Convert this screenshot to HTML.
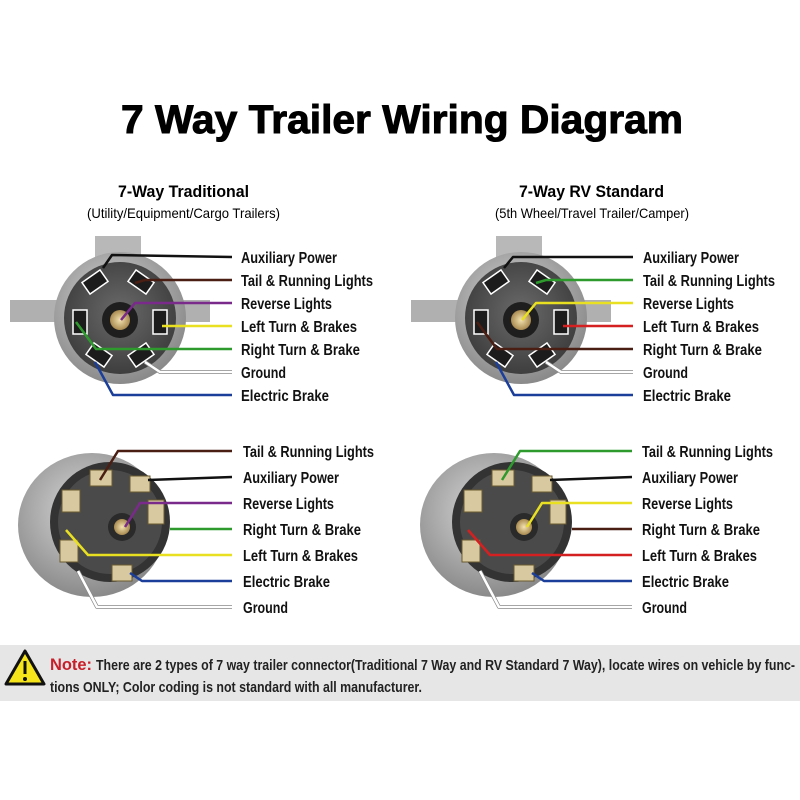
<!DOCTYPE html>
<html><head><meta charset="utf-8"><style>
html,body{margin:0;padding:0;background:#fff;width:800px;height:800px;overflow:hidden}
svg text{font-family:"Liberation Sans Narrow","Liberation Sans",sans-serif;}
</style></head><body>
<svg width="800" height="800" viewBox="0 0 800 800" xmlns="http://www.w3.org/2000/svg">
<defs>
<radialGradient id="face" cx="50%" cy="45%" r="60%"><stop offset="0" stop-color="#6a6a6a"/><stop offset="1" stop-color="#3a3a3a"/></radialGradient>
<radialGradient id="rim" cx="45%" cy="40%" r="60%"><stop offset="0" stop-color="#d8d8d8"/><stop offset="1" stop-color="#8a8a8a"/></radialGradient>
<radialGradient id="brass" cx="50%" cy="50%" r="50%"><stop offset="0" stop-color="#f4e2b0"/><stop offset="1" stop-color="#a88a50"/></radialGradient>
</defs>
<text x="402" y="133" font-size="40" font-weight="bold" text-anchor="middle" textLength="562" lengthAdjust="spacingAndGlyphs" stroke="#000" stroke-width="1" style="font-family:'Liberation Sans',sans-serif">7 Way Trailer Wiring Diagram</text>
<text x="118" y="197" font-size="17" font-weight="bold" textLength="131" lengthAdjust="spacingAndGlyphs">7-Way Traditional</text>
<text x="87" y="218" font-size="14" textLength="193" lengthAdjust="spacingAndGlyphs">(Utility/Equipment/Cargo Trailers)</text>
<text x="519" y="197" font-size="17" font-weight="bold" textLength="145" lengthAdjust="spacingAndGlyphs">7-Way RV Standard</text>
<text x="495" y="218" font-size="14" textLength="194" lengthAdjust="spacingAndGlyphs">(5th Wheel/Travel Trailer/Camper)</text>

<g id="topconn">
<rect x="95" y="236" width="46" height="30" fill="#b8b8b8"/>
<rect x="10" y="300" width="200" height="22" fill="#b0b0b0"/>
<circle cx="120" cy="318" r="66" fill="url(#rim)"/>
<circle cx="120" cy="318" r="56" fill="url(#face)"/>
<g fill="#1c1c1c" stroke="#fff" stroke-width="1.5">
<rect x="84" y="275" width="22" height="14" transform="rotate(-35 95 282)"/>
<rect x="130" y="275" width="22" height="14" transform="rotate(35 141 282)"/>
<rect x="73" y="310" width="14" height="24"/>
<rect x="153" y="310" width="14" height="24"/>
<rect x="88" y="348" width="22" height="14" transform="rotate(35 99 355)"/>
<rect x="130" y="348" width="22" height="14" transform="rotate(-35 141 355)"/>
</g>
<circle cx="120" cy="320" r="18" fill="#1e1e1e"/>
<circle cx="120" cy="320" r="10" fill="url(#brass)"/>
</g>
<use href="#topconn" x="401" y="0"/>

<g id="botconn">
<ellipse cx="92" cy="525" rx="74" ry="72" fill="url(#rim)"/>
<circle cx="110" cy="522" r="60" fill="#333"/>
<circle cx="110" cy="522" r="52" fill="#4a4a4a"/>
<g fill="#d8c9a0" stroke="#6a5a30" stroke-width="1">
<rect x="90" y="470" width="22" height="16"/>
<rect x="130" y="476" width="20" height="16"/>
<rect x="62" y="490" width="18" height="22"/>
<rect x="148" y="500" width="16" height="24"/>
<rect x="60" y="540" width="18" height="22"/>
<rect x="112" y="565" width="20" height="16"/>
</g>
<circle cx="122" cy="527" r="14" fill="#2a2a2a"/>
<circle cx="122" cy="527" r="8" fill="url(#brass)"/>
</g>
<use href="#botconn" x="402" y="0"/>

<g fill="none" stroke-width="2.5" stroke-linejoin="round">
<polyline points="103,268 112,255 232,257" stroke="#111"/>
<polyline points="135,283 145,280 232,280" stroke="#4a1e12"/>
<polyline points="121,320 135,303 232,303" stroke="#7a2a8a"/>
<polyline points="162,326 232,326" stroke="#e8e020"/>
<polyline points="76,322 96,349 232,349" stroke="#2e9a2e"/>
<polyline points="145,362 160,372 232,372" stroke="#888" stroke-width="4"/>
<polyline points="145,362 160,372 232,372" stroke="#fff"/>
<polyline points="95,362 113,395 232,395" stroke="#1a3e9a"/>
<polyline points="504,268 513,257 633,257" stroke="#111"/>
<polyline points="536,283 546,280 633,280" stroke="#2e9a2e"/>
<polyline points="522,320 536,303 633,303" stroke="#e8e020"/>
<polyline points="563,326 633,326" stroke="#d42020"/>
<polyline points="477,322 497,349 633,349" stroke="#4a1e12"/>
<polyline points="546,362 561,372 633,372" stroke="#888" stroke-width="4"/>
<polyline points="546,362 561,372 633,372" stroke="#fff"/>
<polyline points="496,362 514,395 633,395" stroke="#1a3e9a"/>
<polyline points="100,480 118,451 232,451" stroke="#4a1e12"/>
<polyline points="148,480 232,477" stroke="#111"/>
<polyline points="125,527 140,503 232,503" stroke="#7a2a8a"/>
<polyline points="170,529 232,529" stroke="#2e9a2e"/>
<polyline points="66,530 88,555 232,555" stroke="#e8e020"/>
<polyline points="130,573 142,581 232,581" stroke="#1a3e9a"/>
<polyline points="78,571 97,607 232,607" stroke="#888" stroke-width="4"/>
<polyline points="78,571 97,607 232,607" stroke="#fff"/>
<polyline points="502,480 520,451 632,451" stroke="#2e9a2e"/>
<polyline points="550,480 632,477" stroke="#111"/>
<polyline points="527,527 542,503 632,503" stroke="#e8e020"/>
<polyline points="572,529 632,529" stroke="#4a1e12"/>
<polyline points="468,530 490,555 632,555" stroke="#d42020"/>
<polyline points="532,573 544,581 632,581" stroke="#1a3e9a"/>
<polyline points="480,571 499,607 632,607" stroke="#888" stroke-width="4"/>
<polyline points="480,571 499,607 632,607" stroke="#fff"/>
</g>

<g font-size="16" fill="#111" font-weight="bold">
<text x="241" y="263" textLength="96" lengthAdjust="spacingAndGlyphs">Auxiliary Power</text>
<text x="241" y="286" textLength="132" lengthAdjust="spacingAndGlyphs">Tail &amp; Running Lights</text>
<text x="241" y="309" textLength="91" lengthAdjust="spacingAndGlyphs">Reverse Lights</text>
<text x="241" y="332" textLength="116" lengthAdjust="spacingAndGlyphs">Left Turn &amp; Brakes</text>
<text x="241" y="355" textLength="119" lengthAdjust="spacingAndGlyphs">Right Turn &amp; Brake</text>
<text x="241" y="378" textLength="45" lengthAdjust="spacingAndGlyphs">Ground</text>
<text x="241" y="401" textLength="88" lengthAdjust="spacingAndGlyphs">Electric Brake</text>

<text x="643" y="263" textLength="96" lengthAdjust="spacingAndGlyphs">Auxiliary Power</text>
<text x="643" y="286" textLength="132" lengthAdjust="spacingAndGlyphs">Tail &amp; Running Lights</text>
<text x="643" y="309" textLength="91" lengthAdjust="spacingAndGlyphs">Reverse Lights</text>
<text x="643" y="332" textLength="116" lengthAdjust="spacingAndGlyphs">Left Turn &amp; Brakes</text>
<text x="643" y="355" textLength="119" lengthAdjust="spacingAndGlyphs">Right Turn &amp; Brake</text>
<text x="643" y="378" textLength="45" lengthAdjust="spacingAndGlyphs">Ground</text>
<text x="643" y="401" textLength="88" lengthAdjust="spacingAndGlyphs">Electric Brake</text>

<text x="243" y="457" textLength="131" lengthAdjust="spacingAndGlyphs">Tail &amp; Running Lights</text>
<text x="243" y="483" textLength="96" lengthAdjust="spacingAndGlyphs">Auxiliary Power</text>
<text x="243" y="509" textLength="91" lengthAdjust="spacingAndGlyphs">Reverse Lights</text>
<text x="243" y="535" textLength="118" lengthAdjust="spacingAndGlyphs">Right Turn &amp; Brake</text>
<text x="243" y="561" textLength="115" lengthAdjust="spacingAndGlyphs">Left Turn &amp; Brakes</text>
<text x="243" y="587" textLength="87" lengthAdjust="spacingAndGlyphs">Electric Brake</text>
<text x="243" y="613" textLength="45" lengthAdjust="spacingAndGlyphs">Ground</text>

<text x="642" y="457" textLength="131" lengthAdjust="spacingAndGlyphs">Tail &amp; Running Lights</text>
<text x="642" y="483" textLength="96" lengthAdjust="spacingAndGlyphs">Auxiliary Power</text>
<text x="642" y="509" textLength="91" lengthAdjust="spacingAndGlyphs">Reverse Lights</text>
<text x="642" y="535" textLength="118" lengthAdjust="spacingAndGlyphs">Right Turn &amp; Brake</text>
<text x="642" y="561" textLength="115" lengthAdjust="spacingAndGlyphs">Left Turn &amp; Brakes</text>
<text x="642" y="587" textLength="87" lengthAdjust="spacingAndGlyphs">Electric Brake</text>
<text x="642" y="613" textLength="45" lengthAdjust="spacingAndGlyphs">Ground</text>
</g>

<rect x="0" y="645" width="800" height="56" fill="#e6e6e6"/>
<polygon points="25,651 44,684 6,684" fill="#f5e51a" stroke="#111" stroke-width="3" stroke-linejoin="round"/>
<rect x="23.5" y="661" width="3" height="13" fill="#111"/>
<circle cx="25" cy="679" r="2" fill="#111"/>
<text x="50" y="670" font-size="17" font-weight="bold" fill="#c8202a" textLength="42" lengthAdjust="spacingAndGlyphs">Note:</text>
<text x="96" y="670" font-size="15" font-weight="bold" fill="#222" textLength="699" lengthAdjust="spacingAndGlyphs">There are 2 types of 7 way trailer connector(Traditional 7 Way and RV Standard 7 Way), locate wires on vehicle by func-</text>
<text x="50" y="692" font-size="15" font-weight="bold" fill="#222" textLength="372" lengthAdjust="spacingAndGlyphs">tions ONLY; Color coding is not standard with all manufacturer.</text>
</svg>
</body></html>
